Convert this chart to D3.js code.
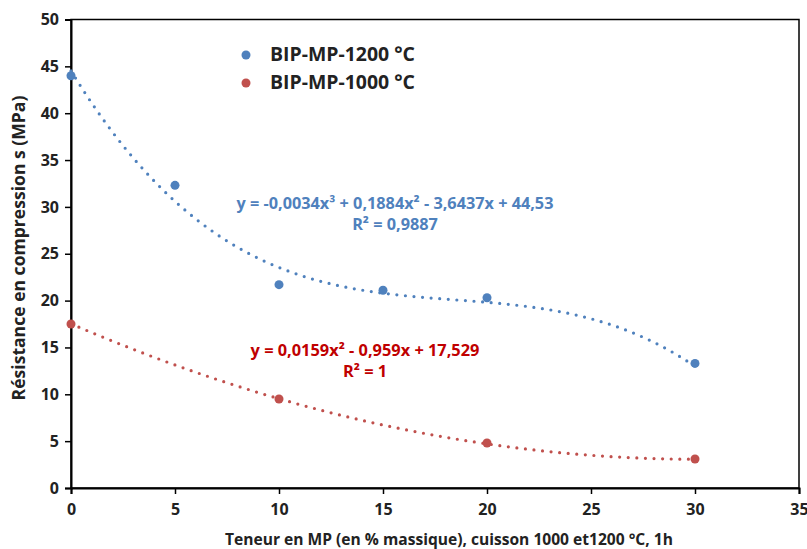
<!DOCTYPE html>
<html><head><meta charset="utf-8">
<script src="https://cdn.jsdelivr.net/npm/d3@7"></script>
<style>body{margin:0;background:#fff}svg{display:block}text{font-family:"Open Sans",Lato,sans-serif;font-weight:bold}</style>
</head><body><svg id="c" width="807" height="549"></svg>
<script>
const seriesNames = ["BIP-MP-1200 °C", "BIP-MP-1000 °C"];
const x1200 = [0, 5, 10, 15, 20, 30];
const y1200 = [44.0, 32.3, 21.7, 21.1, 20.3, 13.3];
const x1000 = [0, 10, 20, 30];
const y1000 = [17.5, 9.5, 4.8, 3.1];
// trendline coefficients as displayed on the chart (constant, x, x², x³)
const coef1200 = [44.53, -3.6437, 0.1884, -0.0034];
const coef1000 = [17.529, -0.959, 0.0159];
const eq1200 = ["y = -0,0034x³ + 0,1884x² - 3,6437x + 44,53", "R² = 0,9887"];
const eq1000 = ["y = 0,0159x² - 0,959x + 17,529", "R² = 1"];
const xTicks = [0, 5, 10, 15, 20, 25, 30, 35];
const yTicks = [0, 5, 10, 15, 20, 25, 30, 35, 40, 45, 50];
const xTitle = "Teneur en MP (en % massique), cuisson 1000 et1200 °C, 1h";
const yTitle = "Résistance en compression s (MPa)";
const colors = ["#4F81BD", "#C0504D"];
const eqColors = ["#4F81BD", "#C00000"];

const svg = d3.select("#c");
const L = 71, R = 799, T = 19.5, B = 488;
const x = d3.scaleLinear().domain([0, 35]).range([L, R]);
const y = d3.scaleLinear().domain([0, 50]).range([B, T]);

function fit(sel, w) {
  const n = sel.node(); const cur = n.getComputedTextLength();
  const fs = parseFloat(sel.style("font-size"));
  const nf = fs * w / cur;
  sel.style("font-size", nf.toFixed(2) + "px");
  return nf;
}

svg.append("rect").attr("x", L).attr("y", T).attr("width", R - L).attr("height", B - T)
  .attr("fill", "none").attr("stroke", "#000").attr("stroke-width", 1.5);

const xa = svg.append("g").attr("transform", `translate(0,${B})`)
  .call(d3.axisBottom(x).tickValues(xTicks).tickSize(6).tickPadding(10).tickFormat(d3.format("d")));
const ya = svg.append("g").attr("transform", `translate(${L},0)`)
  .call(d3.axisLeft(y).tickValues(yTicks).tickSize(6).tickPadding(6).tickFormat(d3.format("d")));
[xa, ya].forEach(a => {
  a.select(".domain").attr("stroke", "#000").attr("stroke-width", 2);
  a.selectAll(".tick line").attr("stroke", "#000").attr("stroke-width", 1.5);
  a.selectAll(".tick text").attr("fill", "#222").style("font-size", "16px")
    .style("font-family", "'Open Sans', sans-serif").style("font-weight", "bold");
});

function poly(c, t) { return c.reduce((s, a, i) => s + a * Math.pow(t, i), 0); }
function trend(c, x0, x1) { return d3.range(x0, x1 + 0.001, 0.1).map(t => [t, poly(c, t)]); }
const line = d3.line().x(d => x(d[0])).y(d => y(d[1]));
[[coef1200, colors[0]], [coef1000, colors[1]]].forEach(([c, col]) => {
  svg.append("path").attr("d", line(trend(c, 0, 30))).attr("fill", "none")
    .attr("stroke", col).attr("stroke-width", 3.2).attr("stroke-linecap", "round")
    .attr("stroke-dasharray", "0 8.6");
});

[[x1200, y1200, colors[0]], [x1000, y1000, colors[1]]].forEach(([xs, ys, col]) => {
  svg.append("g").selectAll("circle").data(xs.map((v, i) => [v, ys[i]])).join("circle")
    .attr("cx", d => x(d[0])).attr("cy", d => y(d[1])).attr("r", 4.5).attr("fill", col);
});

seriesNames.forEach((n, i) => {
  const yy = 55 + i * 28;
  svg.append("circle").attr("cx", 246).attr("cy", yy).attr("r", 4.5).attr("fill", colors[i]);
  const t = svg.append("text").attr("x", 270).attr("y", yy + 6).attr("fill", "#222")
    .style("font-size", "16px").text(n);
  fit(t, 145);
});

[[eq1200, 395, 209, eqColors[0], 317], [eq1000, 365, 356, eqColors[1], 229]].forEach(([lines, cx, by, col, w]) => {
  let fs = 15;
  lines.forEach((t, i) => {
    const e = svg.append("text").attr("x", cx).attr("y", by + i * 21)
      .attr("text-anchor", "middle").attr("fill", col).style("font-size", fs + "px").text(t);
    if (i === 0) fs = fit(e, w);
  });
});

const xt = svg.append("text").attr("x", 449).attr("y", 545).attr("text-anchor", "middle")
  .attr("fill", "#222").style("font-size", "15px").text(xTitle);
fit(xt, 448);
const yt = svg.append("text").attr("transform", "translate(25,248) rotate(-90)").attr("text-anchor", "middle")
  .attr("fill", "#222").style("font-size", "15px").text(yTitle);
fit(yt, 305);
</script></body></html>
